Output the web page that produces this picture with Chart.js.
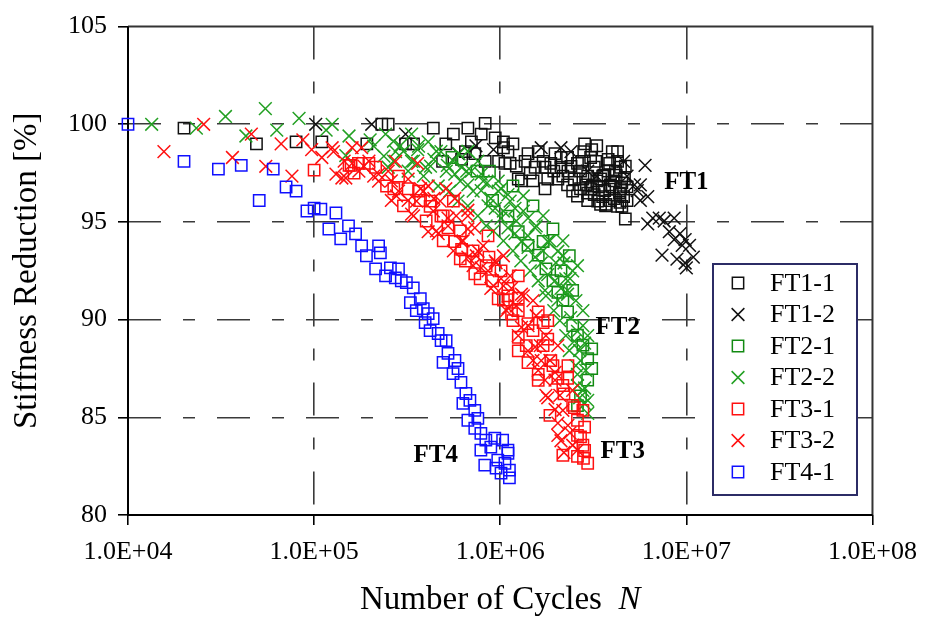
<!DOCTYPE html>
<html><head><meta charset="utf-8">
<script src="https://cdn.jsdelivr.net/npm/chart.js@4"></script>
<style>html,body{margin:0;padding:0;background:#fff}#wrap{width:929px;height:617px}</style>
</head><body><div id="wrap"><canvas id="c" width="929" height="617"></canvas></div>
<script>
// ---------- DATA (N cycles, stiffness %) ----------
const ft11 = [[2.0e4,99.8],[4.9e4,99.0],[8.0e4,99.1],[1.1e5,99.1],[1.92e5,99.0],[2.31e5,100.0],[2.5e5,100.0],[3.1e5,99.0],[3.42e5,99.0],[4.37e5,99.8],[5.1e5,99.0],[4.9e5,98.1],[5.6e5,99.5],[6.2e5,98.2],[6.5e5,98.6],[6.7e5,99.8],[7.0e5,99.1],[7.3e5,98.5],[7.9e5,99.5],[8.3e5,100.05],[8.3e5,98.1],[9.4e5,99.3],[9.8e5,98.1],[1.04e6,99.1],[1.04e6,98.8],[1.06e6,98.0],[1.13e6,98.0],[1.17e6,99.0],[1.25e6,97.2],[1.3e6,97.1],[1.36e6,98.1],[1.41e6,98.5],[1.5e6,97.1],[1.54e6,97.8],[1.6e6,98.6],[1.74e6,96.7],[1.74e6,97.8],[1.8e6,97.2],[1.87e6,98.0],[1.97e6,98.5],[2.04e6,97.2],[2.12e6,97.8],[2.12e6,98.3],[2.3e6,98.3],[2.3e6,96.9],[2.4e6,97.85],[2.5e6,97.2],[2.6e6,98.0],[2.7e6,97.6],[2.7e6,96.7],[2.75e6,98.1],[2.84e6,99.0],[2.95e6,96.1],[2.95e6,97.35],[3.06e6,98.3],[3.06e6,96.7],[3.1e6,98.7],[3.2e6,97.8],[3.2e6,96.4],[3.3e6,97.1],[3.3e6,98.9],[3.46e6,95.9],[3.46e6,97.2],[3.55e6,96.3],[3.64e6,96.6],[3.8e6,98.2],[3.8e6,97.6],[3.9e6,96.1],[4.0e6,96.8],[4.0e6,98.6],[4.1e6,96.2],[4.1e6,97.1],[4.27e6,98.1],[4.27e6,95.8],[4.43e6,97.8],[4.43e6,96.7],[4.6e6,96.3],[4.65e6,97.2],[4.7e6,95.15],[4.8e6,96.1],[4.8e6,96.8],[3.6e6,97.4],[4.2e6,97.4],[3.9e6,96.9],[4.5e6,97.0],[3.4e6,96.8],[2.9e6,96.9],[3.7e6,95.9],[4.4e6,96.0],
  [2.17e6,97.35],[2.45e6,96.58],[2.78e6,97.2],[3.13e6,96.84],[3.55e6,97.35],[3.87e6,96.68],[4.16e6,97.6],[4.37e6,96.48],[4.7e6,97.86],[4.5e6,95.8],[3.34e6,96.07],[3.68e6,95.82],[2.95e6,96.48],[2.31e6,97.6],[2.6e6,96.33],[3.26e6,98.1],[3.87e6,98.0],[4.27e6,98.6],[2.81e6,98.6],[1.94e6,97.6],[1.7e6,98.1],[1.45e6,97.5],[1.22e6,97.86],[1.1e6,98.6]];
const ft12 = [[1.02e5,100.0],[2.04e5,100.0],[3.1e5,99.5],[5.95e5,98.5],[7.4e5,98.9],[9.2e5,98.7],[1.66e6,98.8],[2.12e6,98.8],[2.4e6,98.6],[2.95e6,97.6],[3.3e6,97.35],[4.6e6,98.1],[4.8e6,97.35],[5.26e6,96.9],[5.45e6,96.6],[5.66e6,96.9],[5.66e6,96.1],[6.0e6,97.9],[6.2e6,96.3],[6.6e6,95.2],[6.2e6,94.9],[7.15e6,95.2],[7.6e6,95.05],[8.6e6,95.2],[8.1e6,94.5],[9.25e6,94.4],[8.6e6,94.1],[9.85e6,94.1],[1.04e7,93.8],[9.5e6,93.8],[7.4e6,93.3],[8.9e6,93.1],[9.85e6,92.9],[1.09e7,93.2],[1.0e7,92.65]];
const ft21 = [[5.5e5,98.3],[7.5e5,97.6],[9.1e5,96.1],[1.1e6,95.3],[1.25e6,94.5],[1.41e6,93.8],[1.6e6,93.3],[1.7e6,94.0],[1.76e6,92.6],[1.92e6,92.0],[2.04e6,91.4],[2.12e6,92.5],[2.17e6,91.0],[2.3e6,90.4],[2.45e6,91.5],[2.45e6,89.7],[2.6e6,89.2],[2.78e6,88.7],[3.1e6,88.5],[2.95e6,88.0],[3.1e6,87.5],[2.95e6,86.9],[2.7e6,86.1],[2.6e6,85.6],
  [8.75e5,97.6],[1.17e6,96.84],[1.5e6,95.82],[1.92e6,94.64],[2.35e6,93.27]];
const ft22 = [[1.34e4,100.0],[2.33e4,99.8],[3.34e4,100.4],[4.3e4,99.4],[5.47e4,100.8],[6.3e4,99.7],[8.3e4,100.3],[1.16e5,99.7],[1.25e5,100.0],[1.48e5,98.4],[1.54e5,99.4],[2.0e5,99.2],[2.42e5,99.5],[2.5e5,97.8],[2.74e5,98.6],[2.9e5,98.9],[3.34e5,99.5],[3.34e5,98.1],[3.6e5,98.7],[3.97e5,97.8],[4.1e5,99.1],[4.4e5,98.2],[4.8e5,98.6],[5.2e5,97.9],[5.7e5,97.45],[6.0e5,98.5],[6.2e5,97.8],[6.7e5,96.9],[7.0e5,97.6],[7.9e5,97.45],[7.9e5,96.6],[8.5e5,97.0],[8.9e5,96.2],[9.4e5,95.7],[1.01e6,95.2],[1.01e6,96.7],[1.1e6,94.7],[1.1e6,96.4],[1.2e6,94.4],[1.2e6,95.7],[1.3e6,94.0],[1.41e6,93.7],[1.41e6,95.2],[1.54e6,93.2],[1.54e6,94.7],[1.66e6,92.9],[1.74e6,91.5],[1.8e6,92.3],[1.8e6,94.0],[1.97e6,92.0],[2.04e6,91.0],[2.04e6,93.5],[2.12e6,91.6],[2.2e6,92.9],[2.3e6,91.3],[2.3e6,91.5],[2.37e6,92.1],[2.39e6,90.1],[2.5e6,88.9],[2.6e6,89.4],[2.6e6,87.2],[2.67e6,86.0],[2.7e6,87.9],[2.84e6,88.8],[2.84e6,86.5],[2.84e6,85.7],[2.95e6,85.2],
  [2.09e5,98.88],[2.37e5,98.37],[2.67e5,99.13],[3.02e5,98.62],[3.42e5,98.11],[3.64e5,98.88],[4.22e5,97.86],[4.54e5,98.62],[5.13e5,97.6],[5.6e5,98.11],[6.1e5,97.09],[6.6e5,97.6],[7.15e5,96.58],[8.1e5,97.09],[8.6e5,95.82],[9.75e5,96.58],[1.04e6,95.56],[1.13e6,96.07],[1.22e6,95.05],[1.33e6,95.56],[1.41e6,94.29],[1.56e6,94.8],[1.7e6,93.52],[1.85e6,94.03],[1.99e6,92.91],[2.17e6,93.27],[2.25e6,92.09],[2.45e6,92.5],[2.55e6,90.97],[2.78e6,90.46],[2.78e6,89.69],[2.95e6,89.18],[2.67e6,88.42],[2.88e6,87.4],[2.78e6,86.38],
  [2.67e5,98.11],[3.2e5,97.6],[3.87e5,97.35],[4.64e5,96.84],[5.35e5,96.58],[5.93e5,96.07],[6.7e5,95.82],[7.58e5,95.31],[8.4e5,94.8],[9.2e5,94.54],[1.04e6,94.03],[1.17e6,93.52],[1.29e6,93.01],[1.45e6,92.5],[1.6e6,91.99],[1.76e6,91.22],[1.94e6,90.46],[2.09e6,89.95],[2.25e6,89.18],[2.35e6,88.42],[2.55e6,87.65],[2.6e6,86.63],[2.95e6,85.87],[6.7e5,98.62],[7.58e5,98.11],[9.75e5,97.09],[1.33e6,96.33],[1.7e6,95.31],[2.17e6,94.03],[2.6e6,92.76]];
const ft31 = [[1.0e5,97.65],[1.54e5,97.9],[1.58e5,97.9],[1.73e5,98.0],[1.97e5,98.0],[2.14e5,97.8],[2.68e5,96.7],[3.2e5,96.7],[3.73e5,96.1],[4.2e5,95.8],[4.8e5,95.3],[5.24e5,94.7],[5.7e5,94.0],[6.2e5,93.6],[6.5e5,93.0],[7.3e5,92.35],[8.7e5,93.2],[1.01e6,92.5],[1.04e6,91.0],[1.1e6,91.6],[1.15e6,90.3],[1.25e6,91.1],[1.25e6,89.1],[1.25e6,88.4],[1.41e6,89.8],[1.41e6,87.8],[1.6e6,90.4],[1.6e6,87.2],[1.7e6,89.85],[1.8e6,89.0],[1.87e6,87.9],[2.04e6,87.0],[2.2e6,86.2],[2.3e6,87.0],[2.5e6,85.5],[2.6e6,84.85],[2.6e6,83.0],[2.7e6,84.0],[2.84e6,84.5],[2.84e6,83.3],[2.8e6,82.9],[2.95e6,82.65],
  [3.64e5,96.58],[4.22e5,96.07],[4.94e5,95.31],[6.1e5,94.54],[7.15e5,93.52],[8.4e5,92.76],[9.1e5,91.99],[1.1e6,91.22],[1.25e6,90.46],[1.5e6,89.44],[1.7e6,88.67],[1.92e6,87.65],[2.17e6,86.63],[2.45e6,85.61],[2.6e6,84.08],[2.78e6,83.57],
  [1.64e5,97.5],[2.45e5,96.84],[3.02e5,95.82],[4.0e5,95.05],[4.94e5,94.03],[6.1e5,93.11],[7.8e5,92.09],[9.75e5,91.07],[1.17e6,89.95],[1.38e6,88.67],[1.6e6,86.89],[1.85e6,85.1],[2.17e6,83.06],[2.84e5,97.35],[5.6e5,96.07],[8.6e5,94.29],[1.25e6,92.24],[1.8e6,89.95],[2.31e6,87.65],[2.78e6,85.36]];
const ft32 = [[1.56e4,98.6],[2.55e4,100.0],[3.64e4,98.3],[4.6e4,99.5],[5.5e4,97.85],[6.65e4,99.0],[7.6e4,97.35],[8.7e4,99.2],[9.7e4,98.7],[1.1e5,98.3],[1.25e5,98.8],[1.27e5,98.6],[1.31e5,97.45],[1.41e5,97.25],[1.48e5,97.25],[1.6e5,98.0],[1.6e5,98.8],[1.8e5,98.8],[2.22e5,97.45],[2.6e5,97.1],[2.6e5,96.1],[2.74e5,98.1],[3.2e5,96.1],[3.34e5,95.4],[3.6e5,98.0],[3.73e5,96.7],[4.1e5,94.5],[4.4e5,96.2],[4.64e5,94.4],[5.1e5,96.7],[5.24e5,95.2],[5.7e5,96.2],[6.2e5,94.0],[6.7e5,93.2],[6.7e5,95.6],[7.3e5,94.7],[7.6e5,93.5],[7.9e5,92.65],[8.9e5,91.6],[9.4e5,93.0],[1.01e6,92.1],[1.1e6,90.6],[1.15e6,91.6],[1.3e6,91.3],[1.3e6,89.6],[1.41e6,88.4],[1.54e6,88.6],[1.6e6,87.4],[1.66e6,87.9],[1.74e6,86.9],[1.8e6,86.0],[1.97e6,85.4],[1.97e6,86.9],[2.04e6,84.7],[2.12e6,83.8],[2.2e6,83.2],[2.37e6,84.2],
  [1.74e5,97.6],[1.97e5,98.11],[2.22e5,97.09],[2.5e5,97.6],[2.84e5,96.58],[3.2e5,97.19],[3.55e5,96.07],[3.87e5,96.58],[4.37e5,95.56],[4.76e5,96.07],[5.24e5,94.8],[5.8e5,95.31],[6.32e5,94.03],[6.7e5,94.64],[7.44e5,93.27],[8.1e5,93.78],[8.6e5,92.5],[9.5e5,92.91],[1.04e6,91.73],[1.13e6,92.24],[1.22e6,90.71],[1.33e6,91.22],[1.41e6,89.69],[1.56e6,90.2],[1.64e6,88.67],[1.76e6,89.18],[1.85e6,87.91],[1.97e6,87.3],[2.09e6,86.12],[2.17e6,85.36],[2.31e6,84.59],[2.45e6,83.57],[2.6e6,83.32],
  [1.45e5,98.11],[1.85e5,97.86],[2.09e5,97.35],[2.77e5,96.33],[3.42e5,95.31],[4.54e5,94.54],[5.6e5,93.52],[7.15e5,92.76],[9.2e5,91.73],[1.08e6,90.46],[1.25e6,89.18],[1.5e6,87.91],[1.76e6,86.12],[2.04e6,84.08],[4.1e5,96.84],[6.7e5,95.31],[1.04e6,93.27],[1.5e6,90.97],[2.04e6,88.67],[2.45e6,86.38]];
const ft41 = [[1.0e4,100.0],[2.0e4,98.1],[3.06e4,97.7],[4.06e4,97.9],[5.07e4,96.1],[6.03e4,97.7],[7.07e4,96.79],[8.0e4,96.58],[9.15e4,95.56],[1.0e5,95.71],[1.087e5,95.66],[1.2e5,94.64],[1.31e5,95.46],[1.39e5,94.13],[1.53e5,94.8],[1.67e5,94.39],[1.8e5,93.78],[1.91e5,93.27],[2.14e5,92.6],[2.22e5,93.78],[2.27e5,93.42],[2.42e5,92.24],[2.57e5,92.65],[2.73e5,92.14],[2.84e5,92.6],[2.94e5,91.99],[3.13e5,91.89],[3.29e5,90.87],[3.41e5,91.63],[3.54e5,90.46],[3.72e5,91.07],[3.86e5,90.56],[3.95e5,89.85],[4.1e5,90.31],[4.2e5,89.44],[4.36e5,90.05],[4.64e5,89.29],[4.81e5,88.93],[4.93e5,87.81],[5.12e5,88.93],[5.24e5,88.27],[5.58e5,87.24],[5.71e5,87.91],[5.93e5,87.5],[6.15e5,86.79],[6.3e5,85.71],[6.54e5,86.22],[6.7e5,84.85],[6.87e5,85.87],[7.3e5,85.36],[7.3e5,84.44],[7.58e5,84.95],[7.87e5,84.18],[7.87e5,83.32],[8.26e5,82.55],[8.37e5,83.83],[8.9e5,83.47],[9.35e5,83.93],[9.5e5,82.4],[9.7e5,82.81],[1.01e6,82.14],[1.03e6,83.83],[1.06e6,82.65],[1.1e6,83.32],[1.1e6,83.16],[1.12e6,82.3],[1.12e6,81.9]];

const seriesNames  = ['FT1-1','FT1-2','FT2-1','FT2-2','FT3-1','FT3-2','FT4-1'];
const seriesValues = [ft11, ft12, ft21, ft22, ft31, ft32, ft41];
const xTickValues = [1e4, 1e5, 1e6, 1e7, 1e8];
const xTickLabels = ['1.0E+04','1.0E+05','1.0E+06','1.0E+07','1.0E+08'];
const yTickValues = [80, 85, 90, 95, 100, 105];
const groupLabels = ['FT1','FT2','FT3','FT4'];
const groupLabelN = [7.6e6, 3.25e6, 3.46e6, 3.42e5];
const groupLabelS = [97.0, 89.6, 83.25, 83.05];

// ---------- STYLE ----------
const FONT = "'Liberation Serif','Times New Roman',serif";
const colors = ['#111111','#111111','#128a12','#22a022','#ff1010','#ff1010','#1010ff'];
const shapes = ['rect','crossRot','rect','crossRot','rect','crossRot','rect'];
const radii  = [8, 9, 8, 9, 8, 9, 8];
const orders = [6, 5, 4, 3, 2, 1, 0];

const datasets = seriesValues.map((arr, i) => ({
  label: seriesNames[i],
  data: arr.map(([x, y]) => ({x, y})),
  showLine: false,
  pointStyle: shapes[i],
  pointRadius: radii[i],
  pointBorderWidth: 1.5,
  borderColor: colors[i],
  backgroundColor: 'rgba(0,0,0,0)',
  clip: false,
  order: orders[i]
}));

function drawMarker(ctx, shape, x, y, r) {
  const s = r * Math.SQRT1_2;
  ctx.beginPath();
  if (shape === 'rect') {
    ctx.rect(x - s, y - s, 2 * s, 2 * s);
  } else {
    ctx.moveTo(x - s, y - s); ctx.lineTo(x + s, y + s);
    ctx.moveTo(x - s, y + s); ctx.lineTo(x + s, y - s);
  }
  ctx.stroke();
}

const framePlugin = {
  id: 'frame',
  beforeDatasetsDraw(chart) {
    const {ctx, chartArea: a} = chart;
    ctx.save();
    ctx.setLineDash([]);
    ctx.lineWidth = 2;
    ctx.strokeStyle = '#333';
    ctx.beginPath();
    ctx.moveTo(a.left, a.top); ctx.lineTo(a.right, a.top); ctx.lineTo(a.right, a.bottom);
    ctx.stroke();
    ctx.strokeStyle = '#000';
    ctx.beginPath();
    ctx.moveTo(a.left, a.top); ctx.lineTo(a.left, a.bottom); ctx.lineTo(a.right, a.bottom);
    ctx.stroke();
    ctx.restore();
  }
};

const overlayPlugin = {
  id: 'overlay',
  afterDraw(chart) {
    const {ctx, chartArea: a, scales} = chart;
    ctx.save();
    ctx.setLineDash([]);
    ctx.fillStyle = '#000';
    ctx.font = 'bold 25px ' + FONT;
    ctx.textAlign = 'left';
    ctx.textBaseline = 'middle';
    groupLabels.forEach((t, i) => {
      ctx.fillText(t, scales.x.getPixelForValue(groupLabelN[i]), scales.y.getPixelForValue(groupLabelS[i]));
    });
    const lx = 713, ly = 264, lw = 144, lh = 231;
    ctx.fillStyle = '#fff';
    ctx.fillRect(lx, ly, lw, lh);
    ctx.strokeStyle = '#2c2c66';
    ctx.lineWidth = 2;
    ctx.strokeRect(lx, ly, lw, lh);
    ctx.font = '26px ' + FONT;
    ctx.textBaseline = 'middle';
    seriesNames.forEach((n, i) => {
      const yy = ly + 19 + i * 31.5;
      ctx.strokeStyle = colors[i];
      ctx.lineWidth = 1.5;
      drawMarker(ctx, shapes[i], lx + 25, yy, radii[i]);
      ctx.fillStyle = '#000';
      ctx.fillText(n, lx + 57, yy + 1);
    });
    const cx = (a.left + a.right) / 2, ty = 600;
    const main = 'Number of Cycles  ';
    ctx.font = '33px ' + FONT;
    const w1 = ctx.measureText(main).width;
    ctx.font = 'italic 33px ' + FONT;
    const w2 = ctx.measureText('N').width;
    const sx = cx - (w1 + w2) / 2;
    ctx.fillStyle = '#000';
    ctx.textAlign = 'left';
    ctx.font = '33px ' + FONT;
    ctx.fillText(main, sx, ty);
    ctx.font = 'italic 33px ' + FONT;
    ctx.fillText('N', sx + w1, ty);
    ctx.restore();
  }
};

const gridDash = [33, 22, 12, 22];

new Chart(document.getElementById('c'), {
  type: 'scatter',
  data: {datasets},
  options: {
    responsive: false,
    animation: false,
    events: [],
    layout: {padding: {top: 25, right: 52, left: 0, bottom: 0}},
    plugins: {legend: {display: false}, tooltip: {enabled: false}},
    scales: {
      x: {
        type: 'logarithmic',
        min: xTickValues[0], max: xTickValues[xTickValues.length - 1],
        afterBuildTicks: s => { s.ticks = xTickValues.map(v => ({value: v})); },
        afterFit: s => { s.height = 102; },
        ticks: {
          autoSkip: false, maxRotation: 0, minRotation: 0,
          callback: v => { const k = xTickValues.indexOf(v); return k >= 0 ? xTickLabels[k] : ''; },
          font: {family: FONT, size: 26}, color: '#000', padding: 12
        },
        grid: {
          color: c => (c.tick && (c.tick.value === xTickValues[0] || c.tick.value === xTickValues[xTickValues.length - 1])) ? 'rgba(0,0,0,0)' : '#3a3a3a',
          lineWidth: 1.6, tickBorderDash: [],
          tickColor: '#000', tickWidth: 1.6, tickLength: 10
        },
        border: {display: false, dash: gridDash},
        title: {display: false}
      },
      y: {
        type: 'linear',
        min: 80, max: 105,
        afterBuildTicks: s => { s.ticks = yTickValues.map(v => ({value: v})); },
        afterFit: s => { s.width = 128; },
        ticks: {font: {family: FONT, size: 26}, color: '#000', padding: 11},
        grid: {
          color: c => (c.tick && (c.tick.value === 80 || c.tick.value === 105)) ? 'rgba(0,0,0,0)' : '#3a3a3a',
          lineWidth: 1.6, tickBorderDash: [],
          tickColor: '#000', tickWidth: 1.6, tickLength: 10
        },
        border: {display: false, dash: gridDash},
        title: {
          display: true, text: 'Stiffness Reduction [%]', color: '#000',
          font: {family: FONT, size: 33, lineHeight: 1},
          padding: {top: 11, bottom: 0}
        }
      }
    }
  },
  plugins: [framePlugin, overlayPlugin]
});
</script></body></html>
